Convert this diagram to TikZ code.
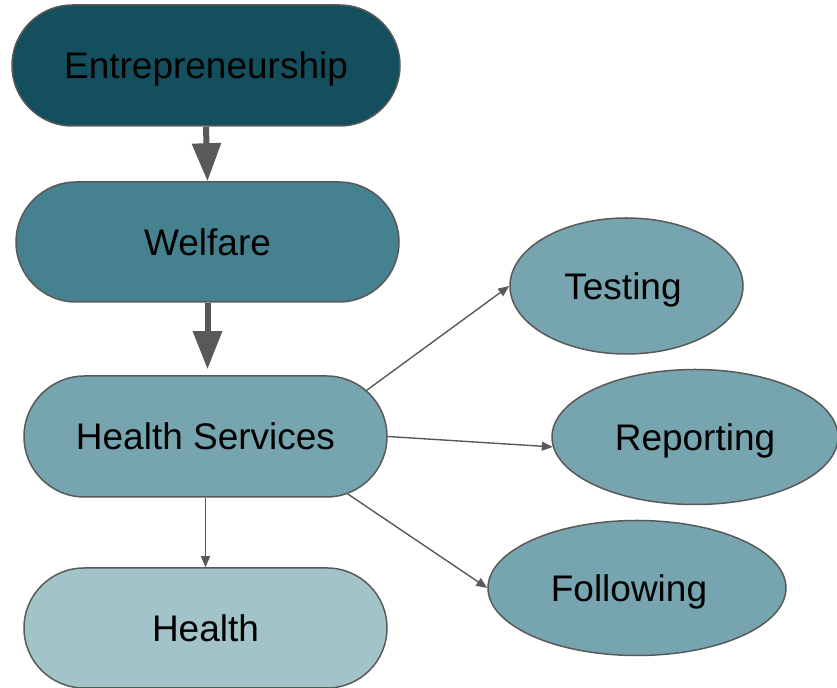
\documentclass[tikz,border=0pt]{standalone}
\usepackage{fontspec}
\setmainfont{Liberation Sans}
\usetikzlibrary{shapes.misc,shapes.geometric,arrows.meta}
\definecolor{cA}{HTML}{134F5C}
\definecolor{cB}{HTML}{45818E}
\definecolor{cC}{HTML}{76A5AF}
\definecolor{cD}{HTML}{A2C4C9}
\definecolor{edgegray}{HTML}{595959}
\begin{document}
\begin{tikzpicture}[x=0.5pt,y=-0.5pt,
  pill/.style={rounded rectangle, draw=edgegray, line width=0.75pt, inner sep=0pt,
    text height=13.25pt, text depth=0pt, font=\fontsize{18.5}{22}\selectfont},
  oval/.style={ellipse, draw=edgegray, line width=0.75pt, fill=cC, inner sep=0pt,
    text height=13.25pt, text depth=0pt, font=\fontsize{18.5}{22}\selectfont},
  bigarrow/.style={draw=edgegray, line width=3pt, -{Triangle[length=19pt,width=14pt]}},
  thinarrow/.style={draw=edgegray, line width=0.7pt, -{Triangle[length=5.5pt,width=4.5pt]}}]
\useasboundingbox (0,0) rectangle (837,688);
\node[pill, fill=cA, minimum width=194pt, minimum height=60.5pt] (ent) at (206,65.5) {Entrepreneurship};
\node[pill, fill=cB, minimum width=191.5pt, minimum height=60pt] (wel) at (207.5,242) {Welfare};
\node[pill, fill=cC, minimum width=181.5pt, minimum height=60.5pt] (hs) at (205.5,436.5) {Health Services};
\node[pill, fill=cD, minimum width=181.5pt, minimum height=60pt] (hea) at (205.5,628) {Health};
\node[oval, minimum width=116.5pt, minimum height=68pt] (test) at (626.5,286) {Testing\kern3.5pt};
\node[oval, minimum width=143pt, minimum height=67.5pt] (rep) at (695,437) {Reporting};
\node[oval, minimum width=149pt, minimum height=67.5pt] (fol) at (637,588) {Following\kern8pt};
\draw[bigarrow] (ent.south) -- (wel.north);
\draw[bigarrow, shorten >=3pt] (wel.south) -- (wel.south |- hs.north);
\draw[thinarrow] (hs.south) -- (hea.north);
\draw[thinarrow] (hs.16) -- (test.west);
\draw[thinarrow] (hs.east) -- (rep.184);
\draw[thinarrow] (hs.-22) -- (fol.west);
\end{tikzpicture}
\end{document}
